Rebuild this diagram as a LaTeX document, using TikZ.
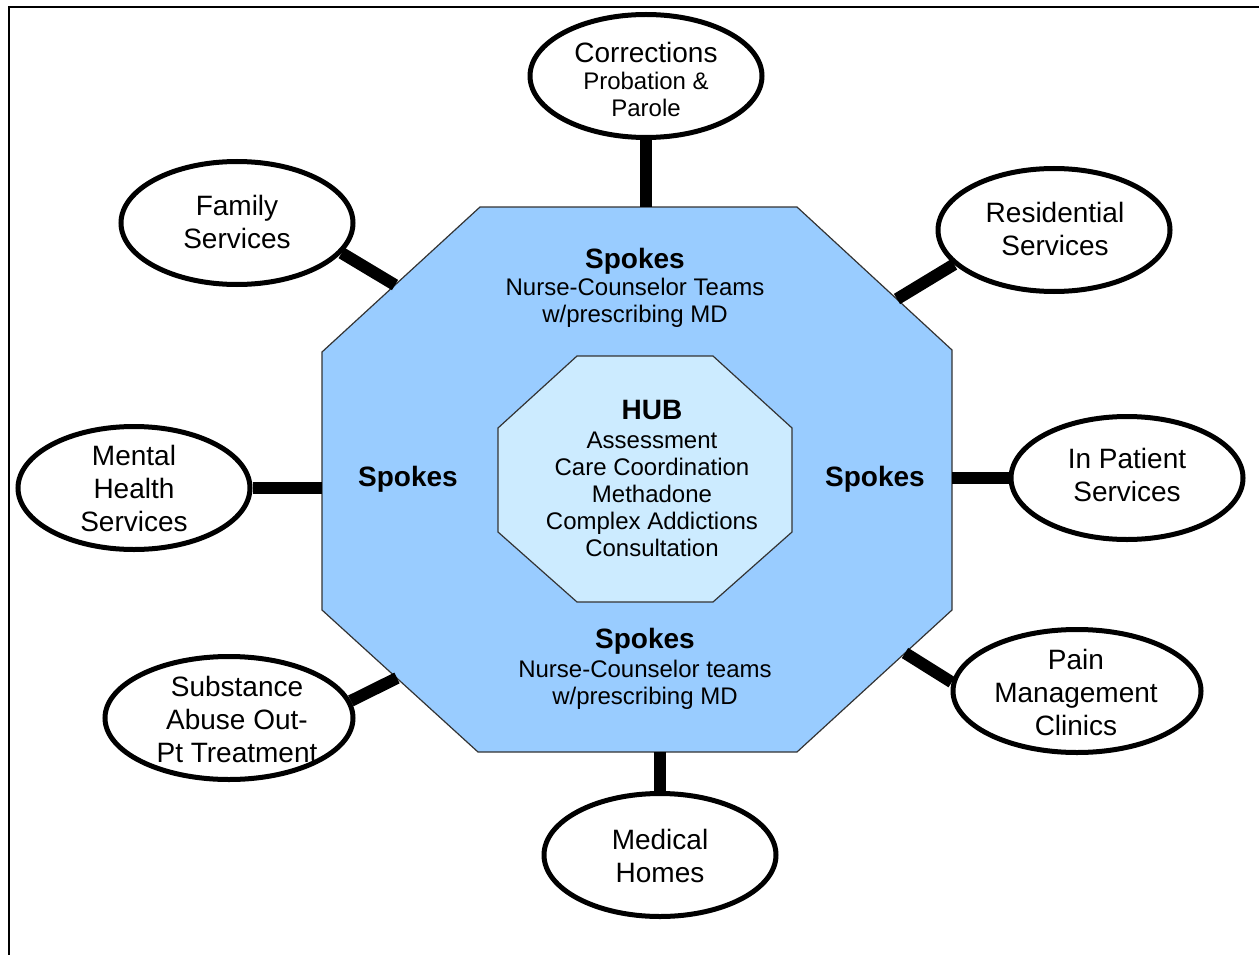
\documentclass[tikz,border=0pt]{standalone}
\usepackage{fontspec}
\setmainfont{Liberation Sans}
\usetikzlibrary{shapes.geometric}
\definecolor{outerblue}{HTML}{99CCFF}
\definecolor{innerblue}{HTML}{CCEBFF}
\begin{document}
\begin{tikzpicture}[x=1pt,y=-1pt,
  svc/.style={ellipse, draw=black, line width=5pt, fill=white, minimum width=232pt, minimum height=123pt, inner sep=0pt},
  svcwide/.style={svc, minimum width=248pt},
  svctxt/.style={align=center, inner sep=0pt, font=\fontsize{28}{33}\selectfont},
  spokeline/.style={line width=12pt, black},
  octline/.style={draw=black!80, line width=1.2pt},
  lbl/.style={align=center, inner sep=0pt, font=\fontsize{24}{27}\selectfont},
  hd/.style={inner sep=0pt, font=\bfseries\fontsize{28}{33}\selectfont}]
\useasboundingbox (0,0) rectangle (1259,955);
% frame
\draw[line width=2.5pt] (9,955) -- (9,7) -- (1259,7);
% outer octagon
\coordinate (O1) at (480,207);
\coordinate (O2) at (797,207);
\coordinate (O3) at (952,350);
\coordinate (O4) at (952,610);
\coordinate (O5) at (797,752);
\coordinate (O6) at (478,752);
\coordinate (O7) at (322,610);
\coordinate (O8) at (322,352);
\filldraw[octline, fill=outerblue] (O1) -- (O2) -- (O3) -- (O4) -- (O5) -- (O6) -- (O7) -- (O8) -- cycle;
% inner octagon
\filldraw[octline, fill=innerblue] (577,356) -- (713,356) -- (792,428) -- (792,532) -- (713,602) -- (577,602) -- (498,532) -- (498,428) -- cycle;
% connector ends on the octagon
\coordinate (cC) at (646,207);
\coordinate (cF) at (395,285);
\coordinate (cR) at (897,299);
\coordinate (cM) at (322,488);
\coordinate (cI) at (952,478);
\coordinate (cS) at (397,678);
\coordinate (cP) at (905,653);
\coordinate (cH) at (660,752);
% service ellipses
\node[svc] (cor) at (646,76) {};
\node[svc] (fam) at (237,223) {};
\node[svc] (res) at (1054,230) {};
\node[svc] (mh) at (134,488) {};
\node[svc] (inp) at (1127,478) {};
\node[svcwide] (pain) at (1077,691) {};
\node[svcwide] (sub) at (229,718) {};
\node[svc] (med) at (660,855) {};
% connectors
\draw[spokeline] (cor.south) -- (cC);
\draw[spokeline] (fam.-16) -- (cF);
\draw[spokeline] (res.199) -- (cR);
\draw[spokeline] (mh.east) -- (cM);
\draw[spokeline] (inp.west) -- (cI);
\draw[spokeline] (sub.8) -- (cS);
\draw[spokeline] (pain.176) -- (cP);
\draw[spokeline] (med.north) -- (cH);
% service texts
\node[lbl] (cort) at (646,79) {{\fontsize{28}{33}\selectfont Corrections}\\Probation \&\\Parole};
\node[svctxt] (famt) at (237,222) {Family\\Services};
\node[svctxt] (rest) at (1055,229) {Residential\\Services};
\node[svctxt] (mht) at (134,488) {Mental\\Health\\Services};
\node[svctxt] (inpt) at (1127,475) {In Patient\\Services};
\node[svctxt] (paint) at (1076,692) {Pain\\Management\\Clinics};
\node[svctxt] (subt) at (237,719) {Substance\\Abuse Out-\\Pt Treatment};
\node[svctxt] (medt) at (660,856) {Medical\\Homes};
% spokes labels
\node[hd] (sptop) at (635,261) {Spokes};
\node[lbl] (sptopt) at (635,303) {Nurse-Counselor Teams\\w/prescribing MD};
\node[hd] (spleft) at (408,479) {Spokes};
\node[hd] (spright) at (875,479) {Spokes};
\node[hd] (spbot) at (645,641) {Spokes};
\node[lbl] (spbott) at (645,685) {Nurse-Counselor teams\\w/prescribing MD};
% hub
\node[hd] (hub) at (652,410) {HUB};
\node[lbl] (hubt) at (652,494) {Assessment\\Care Coordination\\Methadone\\Complex Addictions\\Consultation};
\end{tikzpicture}
\end{document}
